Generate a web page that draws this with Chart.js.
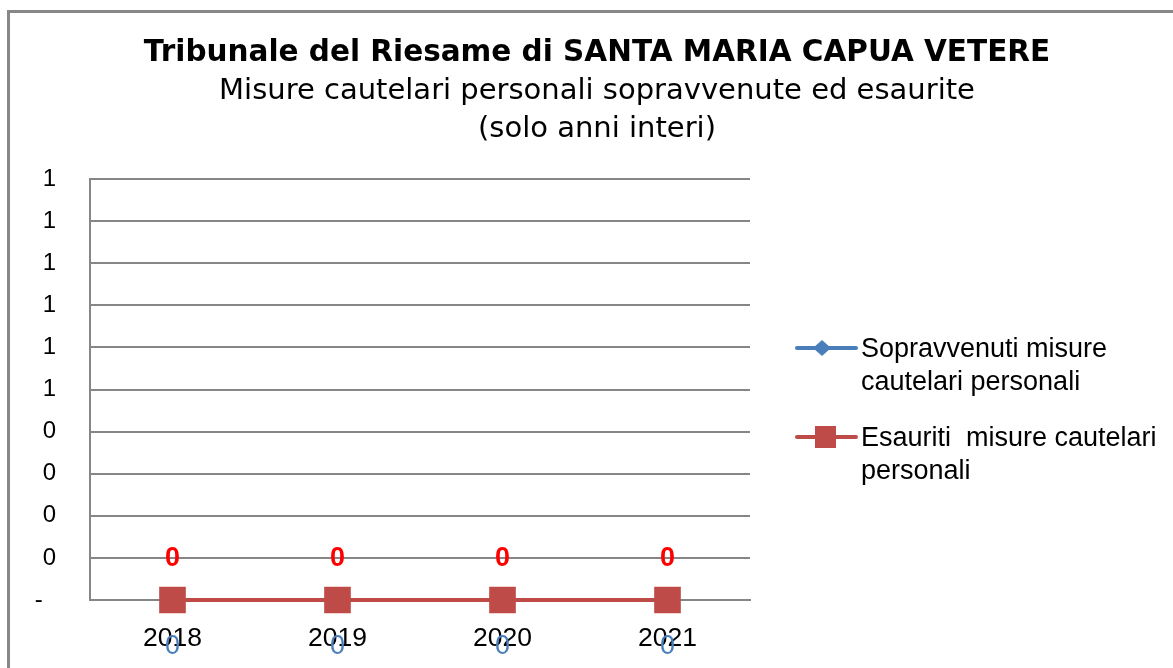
<!DOCTYPE html>
<html>
<head>
<meta charset="utf-8">
<script src="https://cdn.jsdelivr.net/npm/chart.js@4.4.1/dist/chart.umd.min.js"></script>
<style>
  html, body { margin: 0; padding: 0; background: #fff; }
  #wrap { position: relative; width: 1173px; height: 668px; overflow: hidden; }
  #cornice { position: absolute; left: 7px; top: 10px; width: 1300px; height: 800px;
             border-left: 3px solid #878787; border-top: 3px solid #878787; }
  #grafiek { position: absolute; left: 0; top: 0; }
</style>
</head>
<body>
<div id="wrap">
  <div id="cornice"></div>
  <canvas id="grafiek" width="1173" height="668"></canvas>
</div>
<script>
// dati del grafico
const anni = ['2018', '2019', '2020', '2021'];
const sopravvenuti = [0, 0, 0, 0];
const esauriti = [0, 0, 0, 0];
const yTickLabels = ['-  ', '0', '0', '0', '0', '1', '1', '1', '1', '1', '1'];
const legendaTesti = [
  ['Sopravvenuti misure', 'cautelari personali'],
  ['Esauriti  misure cautelari', 'personali']
];
const titolo = 'Tribunale del Riesame di SANTA MARIA CAPUA VETERE';
const sottotitolo = ['Misure cautelari personali sopravvenute ed esaurite', '(solo anni interi)'];

const blu = '#4A7EBB';
const rosso = '#BE4B48';
const grigio = '#868686';

// titoli, etichette dei valori e legenda disegnati a mano
const extraTesti = {
  id: 'extraTesti',
  afterDraw(chart) {
    const ctx = chart.ctx;
    ctx.save();
    ctx.textAlign = 'center';
    ctx.textBaseline = 'middle';
    ctx.fillStyle = '#000';
    ctx.font = 'bold 29.5px "DejaVu Sans"';
    ctx.fillText(titolo, 597, 53);
    ctx.font = '29px "DejaVu Sans"';
    sottotitolo.forEach((r, i) => ctx.fillText(r, 597, 91 + i * 38));

    // etichette dei valori
    chart.data.datasets.forEach((ds, di) => {
      const meta = chart.getDatasetMeta(di);
      meta.data.forEach((p, i) => {
        if (di === 1) {
          ctx.font = 'bold 27px "Liberation Sans"';
          ctx.fillStyle = '#FF0000';
          ctx.fillText(String(ds.data[i]), p.x, p.y - 41);
        } else {
          ctx.font = '27px "Liberation Sans"';
          ctx.fillStyle = blu;
          ctx.fillText(String(ds.data[i]), p.x, p.y + 47);
        }
      });
    });

    // legenda
    const ly = [348, 437];
    chart.data.datasets.forEach((ds, di) => {
      const y = ly[di];
      ctx.strokeStyle = ds.borderColor;
      ctx.lineWidth = 4;
      ctx.lineCap = 'round';
      ctx.beginPath();
      ctx.moveTo(797, y);
      ctx.lineTo(856, y);
      ctx.stroke();
      ctx.fillStyle = ds.borderColor;
      if (di === 0) {
        ctx.beginPath();
        ctx.moveTo(822, y - 8);
        ctx.lineTo(831, y);
        ctx.lineTo(822, y + 8);
        ctx.lineTo(813, y);
        ctx.closePath();
        ctx.fill();
      } else {
        ctx.fillRect(815, y - 11, 21, 22);
      }
      ctx.fillStyle = '#000';
      ctx.textAlign = 'left';
      ctx.font = '27px "Liberation Sans"';
      legendaTesti[di].forEach((r, i) => ctx.fillText(r, 861, y + 2 + i * 33));
      ctx.textAlign = 'center';
    });
    ctx.restore();
  }
};

const ctx = document.getElementById('grafiek').getContext('2d');

new Chart(ctx, {
  type: 'line',
  data: {
    labels: anni,
    datasets: [{
      label: 'Sopravvenuti misure cautelari personali',
      data: sopravvenuti,
      borderColor: blu,
      backgroundColor: blu,
      borderWidth: 4,
      pointStyle: 'rectRot',
      pointRadius: 8,
      order: 2,
      clip: false
    }, {
      label: 'Esauriti  misure cautelari personali',
      data: esauriti,
      borderColor: rosso,
      backgroundColor: rosso,
      borderWidth: 4,
      pointStyle: 'rect',
      pointRadius: 16,
      order: 1,
      clip: false
    }]
  },
  options: {
    responsive: false,
    animation: false,
    events: [],
    layout: { padding: { top: 179, right: 423, bottom: 0, left: 0 } },
    plugins: {
      legend: { display: false },
      tooltip: { enabled: false },
      title: { display: false }
    },
    scales: {
      x: {
        offset: true,
        grid: { display: false, drawTicks: false },
        border: { display: true, color: grigio, width: 2 },
        ticks: {
          color: '#000',
          padding: 23,
          font: { family: 'Liberation Sans', size: 26.5 }
        },
        afterFit: s => { s.height = 68; }
      },
      y: {
        min: 0,
        max: 1,
        grid: { color: grigio, lineWidth: 2, drawTicks: false },
        border: { display: true, color: grigio, width: 2 },
        ticks: {
          stepSize: 0.1,
          color: '#000',
          padding: 34,
          font: { family: 'Liberation Sans', size: 24 },
          callback: (v, i) => yTickLabels[i]
        },
        afterFit: s => { s.width = 90; }
      }
    }
  },
  plugins: [extraTesti]
});
</script>
</body>
</html>
